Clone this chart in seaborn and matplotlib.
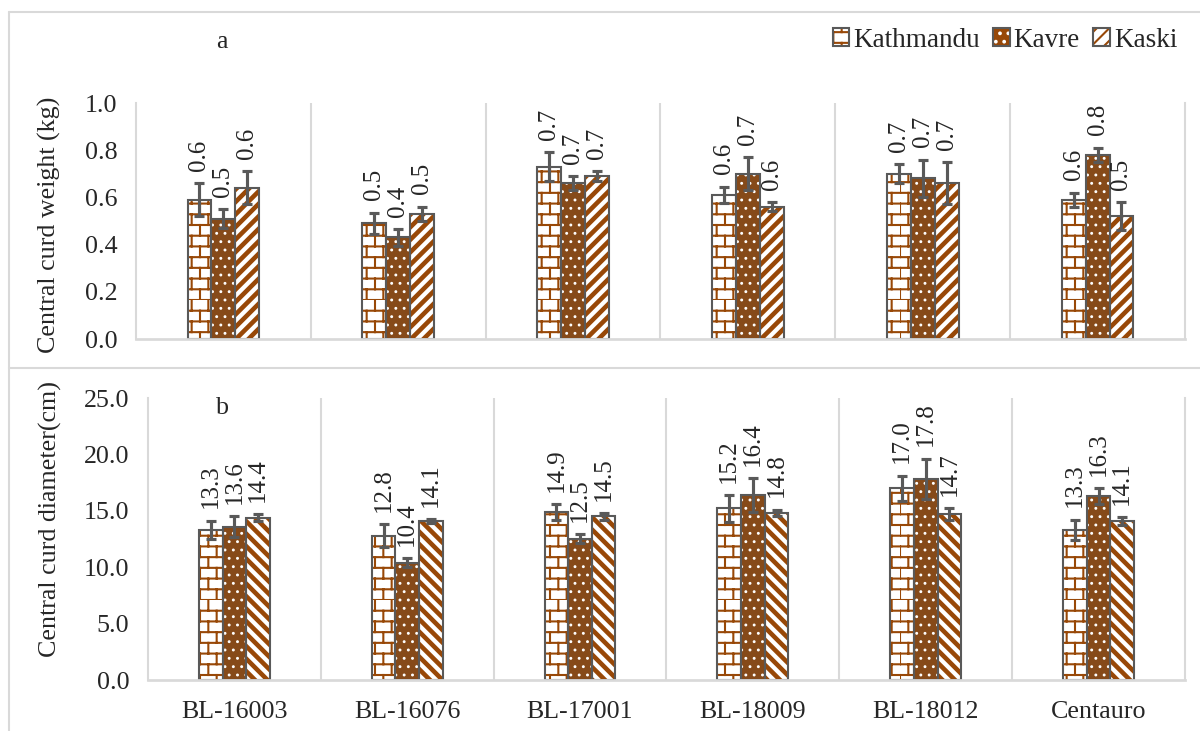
import warnings
import numpy as np
import pandas as pd
import matplotlib
matplotlib.use('Agg')
import matplotlib.pyplot as plt
from matplotlib import hatch as mhatch
from matplotlib.path import Path
from matplotlib.lines import Line2D
from matplotlib.patches import Patch
import seaborn as sns

warnings.filterwarnings('ignore', message='hatch must consist')

# ---- data -------------------------------------------------------------
genotypes = ['BL-16003', 'BL-16076', 'BL-17001', 'BL-18009', 'BL-18012', 'Centauro']
locations = ['Kathmandu', 'Kavre', 'Kaski']

# central curd weight (kg) and error
weight_kathmandu = [0.59, 0.49, 0.73, 0.61, 0.70, 0.59]
weight_kavre = [0.51, 0.43, 0.66, 0.70, 0.68, 0.78]
weight_kaski = [0.64, 0.53, 0.69, 0.56, 0.66, 0.52]
weight_err_kathmandu = [0.07, 0.045, 0.06, 0.035, 0.04, 0.03]
weight_err_kavre = [0.04, 0.035, 0.03, 0.07, 0.08, 0.03]
weight_err_kaski = [0.07, 0.03, 0.02, 0.02, 0.09, 0.06]

# central curd diameter (cm) and error
diam_kathmandu = [13.3, 12.8, 14.9, 15.2, 17.0, 13.3]
diam_kavre = [13.6, 10.4, 12.5, 16.4, 17.8, 16.3]
diam_kaski = [14.4, 14.1, 14.5, 14.8, 14.7, 14.1]
diam_err_kathmandu = [0.8, 1.0, 0.7, 1.2, 1.1, 0.9]
diam_err_kavre = [0.9, 0.4, 0.4, 1.5, 1.8, 0.7]
diam_err_kaski = [0.3, 0.15, 0.3, 0.3, 0.5, 0.35]

BROWN = '#984807'
EDGE = '#595959'
GRID = '#d9d9d9'
face_colors = {'Kathmandu': 'white', 'Kavre': BROWN, 'Kaski': 'white'}
hatch_colors = {'Kathmandu': BROWN, 'Kavre': 'white', 'Kaski': BROWN}
hatch_lw = {'Kathmandu': 1.0, 'Kavre': 0.6, 'Kaski': 2.2}


class BrickHatch(mhatch.HatchPatternBase):
    """Brick wall hatch, drawn for the letter 'b'."""

    def __init__(self, hatch, density):
        n = hatch.count('b')
        self.rows = 14 * n
        self.cols = 9 * n
        self.num_vertices = 2 * (self.rows + self.rows * self.cols)

    def set_vertices_and_codes(self, vertices, codes):
        h = 1.0 / self.rows
        w = 1.0 / self.cols
        segs = []
        for r in range(self.rows):
            y0 = r * h
            segs.append(((0.0, y0), (1.0, y0)))
            shift = w / 2 if r % 2 else 0.0
            for c in range(self.cols):
                x = c * w + shift
                segs.append(((x, y0), (x, y0 + h)))
        vertices[:] = np.array(segs).reshape(-1, 2)
        codes[0::2] = Path.MOVETO
        codes[1::2] = Path.LINETO


mhatch._hatch_types.append(BrickHatch)


def long_frame(values, errors):
    rows = []
    for loc in locations:
        for g, v, e in zip(genotypes, values[loc], errors[loc]):
            rows.append({'genotype': g, 'location': loc, 'value': v, 'err': e})
    return pd.DataFrame(rows)


def draw_panel(ax, df, kaski_hatch, ymax, step, ylabel, label_xy, show_xticks):
    kws = dict(data=df, x='genotype', y='value', hue='location', order=genotypes,
               hue_order=locations, palette=face_colors, width=0.41,
               errorbar=None, legend=False, ax=ax)
    sns.barplot(**kws)   # fill + hatch layer
    sns.barplot(**kws)   # outline layer
    hatches = {'Kathmandu': 'b', 'Kavre': '...', 'Kaski': kaski_hatch}
    for loc, fill_bars, edge_bars in zip(locations, ax.containers[:3], ax.containers[3:6]):
        for p in fill_bars:
            p.set_hatch(hatches[loc])
            p.set_edgecolor(hatch_colors[loc])
            p.set_linewidth(0)
            if hasattr(p, 'set_hatch_linewidth'):
                p.set_hatch_linewidth(hatch_lw[loc])
        for p in edge_bars:
            p.set_facecolor('none')
            p.set_edgecolor(EDGE)
            p.set_linewidth(1.0)

        sub = df[df['location'] == loc]
        xs = [p.get_x() + p.get_width() / 2 for p in fill_bars]
        ax.errorbar(xs, sub['value'], yerr=sub['err'], fmt='none', ecolor=EDGE,
                    elinewidth=1.5, capsize=2.4, capthick=1.5, zorder=4)
        for x, v, e in zip(xs, sub['value'], sub['err']):
            ax.annotate(f'{v:.1f}', (x, v + e), xytext=(0, 6), textcoords='offset points',
                        rotation=90, ha='center', va='bottom', fontsize=12)

    for k in range(len(genotypes) - 1):
        ax.axvline(k + 0.5, color=GRID, lw=1.0, zorder=0)
    ax.set_xlim(-0.5, len(genotypes) - 0.5)
    ax.set_ylim(0, ymax)
    ax.set_yticks(np.arange(0, ymax + step / 2, step))
    ax.yaxis.set_major_formatter(matplotlib.ticker.FormatStrFormatter('%.1f'))
    ax.spines['top'].set_visible(False)
    for side in ['left', 'right', 'bottom']:
        ax.spines[side].set_color(GRID)
        ax.spines[side].set_linewidth(1.0)
    ax.spines['bottom'].set_linewidth(1.3)
    ax.tick_params(axis='y', length=2.5, width=1.0, color=GRID, labelsize=12.5, pad=6.5)
    ax.tick_params(axis='x', length=0, labelsize=12.5, pad=10)
    if not show_xticks:
        ax.set_xticklabels([])
    ax.set_xlabel('')
    ax.set_ylabel(ylabel, fontsize=12.5)
    ax.yaxis.set_label_coords(*label_xy)


sns.set_style('white')
plt.rcParams['font.family'] = ['Liberation Serif', 'DejaVu Serif']

weights = long_frame({'Kathmandu': weight_kathmandu, 'Kavre': weight_kavre, 'Kaski': weight_kaski},
                     {'Kathmandu': weight_err_kathmandu, 'Kavre': weight_err_kavre, 'Kaski': weight_err_kaski})
diams = long_frame({'Kathmandu': diam_kathmandu, 'Kavre': diam_kavre, 'Kaski': diam_kaski},
                   {'Kathmandu': diam_err_kathmandu, 'Kavre': diam_err_kavre, 'Kaski': diam_err_kaski})

fig = plt.figure(figsize=(8, 4.874), dpi=150)
ax_a = fig.add_axes([0.1133, 0.5363, 0.8742, 0.3228])
ax_b = fig.add_axes([0.1233, 0.0698, 0.8642, 0.3858])

draw_panel(ax_a, weights, '////', 1.0, 0.2, 'Central curd weight (kg)', (-0.071, 0.483), False)
draw_panel(ax_b, diams, '\\\\\\\\', 25.0, 5.0, 'Central curd diameter(cm)', (-0.083, 0.571), True)

# panel frames
for xs, ys in [([0.0075, 1.0], [0.9836, 0.9836]), ([0.0075, 1.0], [0.4966, 0.4966]),
               ([0.0075, 0.0075], [0.0, 0.9836])]:
    fig.add_artist(Line2D(xs, ys, transform=fig.transFigure, color=GRID, lw=1.0))

fig.text(0.185, 0.9425, 'a', fontsize=12.5, ha='center', va='center')
fig.text(0.185, 0.4419, 'b', fontsize=12.5, ha='center', va='center')

# legend
handles = []
for loc in locations:
    fill = Patch(facecolor=face_colors[loc], edgecolor=hatch_colors[loc], lw=0,
                 hatch={'Kathmandu': 'b', 'Kavre': '...', 'Kaski': '////'}[loc])
    outline = Patch(facecolor='none', edgecolor=EDGE, lw=1.0)
    handles.append((fill, outline))
fig.legend(handles, locations, loc='center right', bbox_to_anchor=(0.99, 0.945),
           borderaxespad=0, ncol=3, frameon=False, fontsize=13, handlelength=0.6,
           handleheight=0.6, handletextpad=0.15, columnspacing=0.5)

fig.savefig('out.png', dpi=150)
